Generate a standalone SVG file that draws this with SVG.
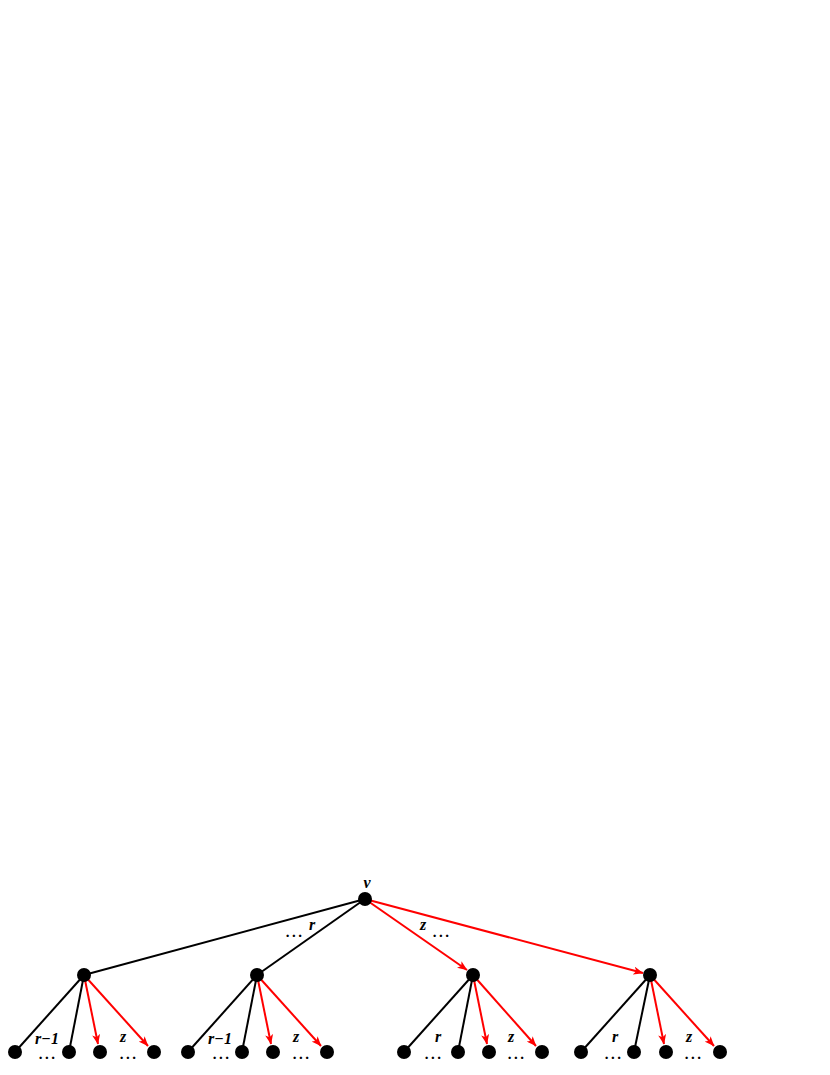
<svg xmlns="http://www.w3.org/2000/svg" width="830" height="1075" viewBox="0 0 830 1075">
<style>
.n{fill:#000}
.b{stroke:#000;stroke-width:2;fill:none}
.r{stroke:#f00;stroke-width:2;fill:none;marker-end:url(#ah)}
.t{font-family:"Liberation Serif",serif;font-weight:bold;font-style:italic;font-size:16px;fill:#000;text-anchor:middle}
.d{font-family:"Liberation Serif",serif;font-weight:bold;font-size:15px;letter-spacing:2.5px;fill:#000;text-anchor:middle}
</style>
<defs>
<marker id="ah" viewBox="0 0 10 8" refX="9.5" refY="4" markerWidth="5" markerHeight="4" orient="auto" markerUnits="strokeWidth">
<path d="M0,0 L10,4 L0,8 L2.5,4 Z" fill="#f00"/>
</marker>
</defs>
<g id="edges">
<line class="b" x1="365" y1="899" x2="84" y2="975"/>
<line class="b" x1="365" y1="899" x2="257" y2="975"/>
<line class="r" x1="365" y1="899" x2="467" y2="970"/>
<line class="r" x1="365" y1="899" x2="643" y2="973"/>
<line class="b" x1="84" y1="975" x2="15" y2="1052"/>
<line class="b" x1="84" y1="975" x2="69" y2="1052"/>
<line class="r" x1="84" y1="975" x2="98" y2="1044"/>
<line class="r" x1="84" y1="975" x2="148" y2="1046"/>
<line class="b" x1="257" y1="975" x2="188" y2="1052"/>
<line class="b" x1="257" y1="975" x2="242" y2="1052"/>
<line class="r" x1="257" y1="975" x2="271" y2="1044"/>
<line class="r" x1="257" y1="975" x2="321" y2="1046"/>
<line class="b" x1="473" y1="975" x2="404" y2="1052"/>
<line class="b" x1="473" y1="975" x2="458" y2="1052"/>
<line class="r" x1="473" y1="975" x2="487" y2="1044"/>
<line class="r" x1="473" y1="975" x2="536" y2="1046"/>
<line class="b" x1="650" y1="975" x2="581" y2="1052"/>
<line class="b" x1="650" y1="975" x2="634" y2="1052"/>
<line class="r" x1="650" y1="975" x2="664" y2="1044"/>
<line class="r" x1="650" y1="975" x2="714" y2="1046"/>
</g>
<g id="v"><circle class="n" cx="365" cy="899" r="7"/><text class="t" x="367" y="888">v</text></g>
<g id="a"><circle class="n" cx="84" cy="975" r="7"/></g>
<g id="b"><circle class="n" cx="257" cy="975" r="7"/></g>
<g id="c"><circle class="n" cx="473" cy="975" r="7"/></g>
<g id="d"><circle class="n" cx="650" cy="975" r="7"/></g>
<g id="a1"><circle class="n" cx="15" cy="1052" r="7"/></g>
<g id="a2"><circle class="n" cx="69" cy="1052" r="7"/></g>
<g id="a3"><circle class="n" cx="100" cy="1052" r="7"/></g>
<g id="a4"><circle class="n" cx="154" cy="1052" r="7"/></g>
<g id="b1"><circle class="n" cx="188" cy="1052" r="7"/></g>
<g id="b2"><circle class="n" cx="242" cy="1052" r="7"/></g>
<g id="b3"><circle class="n" cx="273" cy="1052" r="7"/></g>
<g id="b4"><circle class="n" cx="327" cy="1052" r="7"/></g>
<g id="c1"><circle class="n" cx="404" cy="1052" r="7"/></g>
<g id="c2"><circle class="n" cx="458" cy="1052" r="7"/></g>
<g id="c3"><circle class="n" cx="489" cy="1052" r="7"/></g>
<g id="c4"><circle class="n" cx="542" cy="1052" r="7"/></g>
<g id="d1"><circle class="n" cx="581" cy="1052" r="7"/></g>
<g id="d2"><circle class="n" cx="634" cy="1052" r="7"/></g>
<g id="d3"><circle class="n" cx="666" cy="1052" r="7"/></g>
<g id="d4"><circle class="n" cx="720" cy="1052" r="7"/></g>
<g id="labels">
<text class="d" x="295" y="937">...</text><text class="t" x="312" y="930">r</text>
<text class="t" x="423" y="930">z</text><text class="d" x="442" y="937">...</text>
<text class="t" x="47" y="1044">r−1</text><text class="d" x="48" y="1059">...</text>
<text class="t" x="123" y="1042">z</text><text class="d" x="129" y="1059">...</text>
<text class="t" x="220" y="1044">r−1</text><text class="d" x="222" y="1059">...</text>
<text class="t" x="296" y="1042">z</text><text class="d" x="302" y="1059">...</text>
<text class="t" x="438" y="1042">r</text><text class="d" x="434" y="1059">...</text>
<text class="t" x="511" y="1042">z</text><text class="d" x="517" y="1059">...</text>
<text class="t" x="615" y="1042">r</text><text class="d" x="614" y="1059">...</text>
<text class="t" x="689" y="1042">z</text><text class="d" x="694" y="1059">...</text>
</g>
</svg>
